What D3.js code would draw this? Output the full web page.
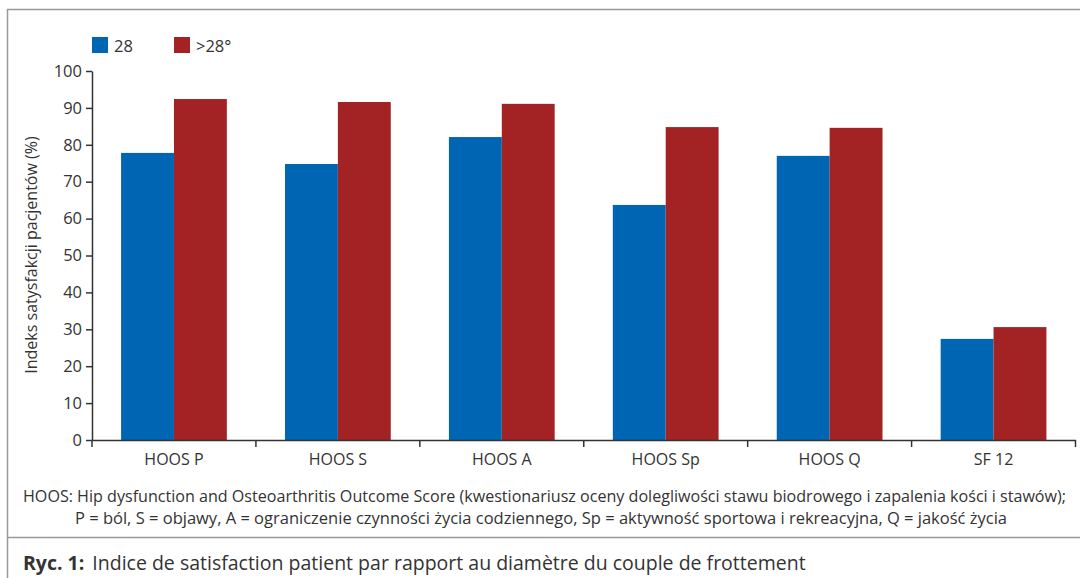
<!DOCTYPE html>
<html><head><meta charset="utf-8">
<script src="https://cdn.jsdelivr.net/npm/d3@7"></script>
<style>body{margin:0;background:#fff;}svg{display:block;font-family:"Open Sans",sans-serif;}</style>
</head><body>
<svg id="c" width="1080" height="578"></svg>
<script>
const categories = ["HOOS P","HOOS S","HOOS A","HOOS Sp","HOOS Q","SF 12"];
const seriesNames = ["28", ">28°"];
const series28 = [77.8, 74.8, 82.1, 63.7, 77.0, 27.4];
const series28plus = [92.4, 91.6, 91.1, 84.8, 84.6, 30.6];
const yTicks = [0,10,20,30,40,50,60,70,80,90,100];
const colors = ["#0066b3", "#a32224"];

const svg = d3.select("#c");
const txt = "#333";
// frame
svg.append("path").attr("d","M7.5,578 V9.5 H1080").attr("fill","none").attr("stroke","#999").attr("stroke-width",1.5);
svg.append("line").attr("x1",7).attr("x2",1080).attr("y1",537.5).attr("y2",537.5).attr("stroke","#999").attr("stroke-width",1.5);

const x0 = d3.scaleBand().domain(categories).range([92,1075.5]).paddingInner(0).paddingOuter(0);
const x1 = d3.scaleBand().domain([0,1]).range([0,x0.bandwidth()]).paddingOuter(0.55).paddingInner(0);
const y = d3.scaleLinear().domain([0,100]).range([440,71]);

const data = categories.map((c,i)=>({c, v:[series28[i], series28plus[i]]}));
const g = svg.append("g");
g.selectAll("g.grp").data(data).join("g").attr("transform",d=>`translate(${x0(d.c)},0)`)
 .selectAll("rect").data(d=>d.v.map((v,k)=>({v,k}))).join("rect")
 .attr("x",d=>x1(d.k)).attr("width",x1.bandwidth())
 .attr("y",d=>y(d.v)).attr("height",d=>y(0)-y(d.v)).attr("fill",d=>colors[d.k]);

// y axis
const ya = svg.append("g").attr("transform","translate(92,0)")
 .call(d3.axisLeft(y).tickValues(yTicks).tickSize(6).tickPadding(4).tickSizeOuter(0));
ya.select(".domain").attr("stroke",txt).attr("stroke-width",1.5);
ya.selectAll(".tick line").attr("stroke",txt).attr("stroke-width",1.5);
ya.selectAll(".tick text").attr("fill",txt).style("font-size","16.5px").style("font-family","Open Sans");

// x axis
const xa = svg.append("g").attr("transform","translate(0,440)")
 .call(d3.axisBottom(x0).tickSize(0).tickPadding(14));
xa.select(".domain").attr("stroke",txt).attr("stroke-width",1.5);
xa.selectAll(".tick text").attr("fill",txt).style("font-size","16px").style("font-family","Open Sans");
const bounds = categories.map(c=>x0(c)).concat([x0.range()[1]]);
svg.append("g").selectAll("line").data(bounds).join("line")
 .attr("x1",d=>d).attr("x2",d=>d).attr("y1",440).attr("y2",447).attr("stroke",txt).attr("stroke-width",1.5);

// y label
svg.append("text").attr("transform","translate(37,255) rotate(-90)").attr("text-anchor","middle")
 .attr("fill",txt).style("font-size","16px").text("Indeks satysfakcji pacjentów (%)");

// legend
const lg = svg.append("g");
const lx = [92, 174];
seriesNames.forEach((n,i)=>{
  lg.append("rect").attr("x",lx[i]).attr("y",37).attr("width",16).attr("height",16).attr("fill",colors[i]);
  lg.append("text").attr("x",lx[i]+22).attr("y",52).attr("fill",txt).style("font-size","16.5px").text(n);
});

// footnote
svg.append("text").attr("x",23).attr("y",502).attr("fill",txt).style("font-size","16px")
 .attr("textLength",1043).attr("lengthAdjust","spacingAndGlyphs")
 .text("HOOS: Hip dysfunction and Osteoarthritis Outcome Score (kwestionariusz oceny dolegliwości stawu biodrowego i zapalenia kości i stawów);");
svg.append("text").attr("x",75).attr("y",524).attr("fill",txt).style("font-size","16px")
 .attr("textLength",932).attr("lengthAdjust","spacingAndGlyphs")
 .text("P = ból, S = objawy, A = ograniczenie czynności życia codziennego, Sp = aktywność sportowa i rekreacyjna, Q = jakość życia");

// caption
const cap = svg.append("text").attr("x",23).attr("y",570).attr("fill",txt).style("font-size","19.5px");
cap.append("tspan").style("font-weight","bold").text("Ryc. 1:");
cap.append("tspan").attr("dx",8).text("Indice de satisfaction patient par rapport au diamètre du couple de frottement");
</script>
</body></html>
